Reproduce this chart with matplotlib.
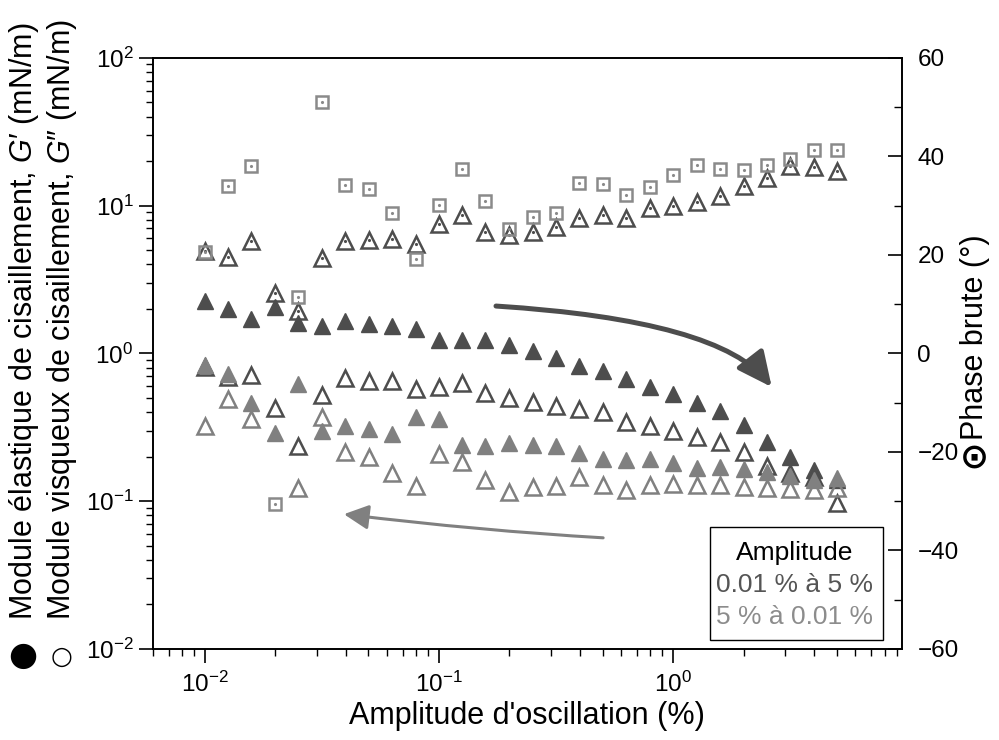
import numpy as np
import matplotlib
matplotlib.use('Agg')
import matplotlib.pyplot as plt
from matplotlib.patches import FancyArrowPatch, Rectangle, ArrowStyle
from matplotlib.path import Path
from matplotlib.ticker import MultipleLocator

plt.rcParams['font.family'] = ['Liberation Sans', 'DejaVu Sans']
plt.rcParams['mathtext.fontset'] = 'custom'
plt.rcParams['mathtext.rm'] = 'Liberation Sans'
plt.rcParams['mathtext.it'] = 'Liberation Sans:italic'
plt.rcParams['mathtext.bf'] = 'Liberation Sans:bold'

# Amplitude d'oscillation (%)
amplitude = [0.01, 0.0126, 0.0158, 0.02, 0.0251, 0.0316, 0.0398, 0.0501, 0.0631, 0.0794,
             0.1, 0.126, 0.158, 0.2, 0.251, 0.316, 0.398, 0.501, 0.631, 0.794,
             1.0, 1.26, 1.58, 2.0, 2.51, 3.16, 3.98, 5.01]

# Montée 0.01 % -> 5 %
g1_montee = [2.27, 1.98, 1.72, 2.07, 1.61, 1.53, 1.65, 1.57, 1.54, 1.47,
             1.23, 1.23, 1.23, 1.14, 1.04, 0.93, 0.82, 0.76, 0.67, 0.59,
             0.53, 0.46, 0.41, 0.33, 0.25, 0.20, 0.163, 0.14]
g2_montee = [0.81, 0.69, 0.71, 0.43, 0.236, 0.52, 0.68, 0.65, 0.65, 0.57,
             0.59, 0.63, 0.54, 0.50, 0.47, 0.44, 0.42, 0.40, 0.343, 0.32,
             0.30, 0.27, 0.25, 0.216, 0.173, 0.156, 0.145, 0.097]
phase_montee = [20.8, 19.6, 22.8, 12.2, 8.6, 19.3, 22.8, 23.0, 23.2, 22.1,
                26.2, 28.1, 24.6, 24.0, 24.7, 25.7, 27.4, 28.1, 27.4, 29.4,
                29.9, 30.8, 31.9, 33.9, 35.5, 38.0, 37.9, 37.0]

# Descente 5 % -> 0.01 %
g1_descente = [0.84, 0.73, 0.46, 0.29, 0.62, 0.30, 0.32, 0.31, 0.284, 0.37,
               0.36, 0.24, 0.236, 0.246, 0.239, 0.235, 0.213, 0.192, 0.19, 0.192,
               0.18, 0.167, 0.17, 0.165, 0.158, 0.148, 0.139, 0.143]
g2_descente = [0.32, 0.49, 0.36, np.nan, 0.123, 0.37, 0.216, 0.20, 0.155, 0.127,
               0.21, 0.183, 0.14, 0.116, 0.124, 0.127, 0.145, 0.129, 0.119, 0.128,
               0.131, 0.129, 0.128, 0.124, 0.123, 0.12, 0.119, 0.122]
phase_descente = [20.5, 33.9, 38.0, -30.6, 11.4, 51.0, 34.1, 33.4, 28.5, 19.2,
                  30.2, 37.5, 31.0, 25.2, 27.6, 28.4, 34.5, 34.3, 32.1, 33.7,
                  36.2, 38.3, 37.5, 37.3, 38.3, 39.5, 41.2, 41.3]

fonce = '#4d4d4d'
clair = '#808080'
carre = '#8a8a8a'

fig = plt.figure(figsize=(9.99, 7.4), dpi=100)
ax = fig.add_axes([0.153, 0.123, 0.75, 0.799])
ax.set_xscale('log')
ax.set_yscale('log')
ax.set_xlim(0.006, 9.5)
ax.set_ylim(1e-2, 1e2)

# modules
ax.plot(amplitude, g1_montee, '^', ms=11, color=fonce, mec=fonce, mew=1)
ax.plot(amplitude, g2_montee, '^', ms=11, mfc='none', mec=fonce, mew=1.8)
ax.plot(amplitude, g1_descente, '^', ms=11, color=clair, mec=clair, mew=1)
ax.plot(amplitude, g2_descente, '^', ms=11, mfc='none', mec=clair, mew=1.8)

for s in ax.spines.values():
    s.set_linewidth(1.2)
ax.tick_params(which='major', direction='out', length=10, width=1.2, labelsize=17.5)
ax.tick_params(which='minor', direction='out', length=5, width=1.0)
ax.tick_params(axis='y', pad=4)
ax.tick_params(axis='x', pad=6)

# phase brute (axe droit)
ax2 = ax.twinx()
ax2.set_ylim(-60, 60)
ax2.set_yticks(range(-60, 61, 20))
ax2.yaxis.set_minor_locator(MultipleLocator(10))
ax2.plot(amplitude, phase_montee, '^', ms=11, mfc='none', mec=fonce, mew=1.8)
ax2.plot(amplitude, phase_montee, '.', ms=2.5, color=fonce)
ax2.plot(amplitude, phase_descente, 's', ms=8, mfc='none', mec=carre, mew=1.8)
ax2.plot(amplitude, phase_descente, '.', ms=2.5, color=carre)
ax2.tick_params(which='major', direction='in', length=10, width=1.2, labelsize=17.5, pad=11)
ax2.tick_params(which='minor', direction='in', length=6, width=1.0)
for s in ax2.spines.values():
    s.set_linewidth(1.2)

# flèches
fleche1 = Path([(0.458, 0.580), (0.757, 0.556), (0.826, 0.443)],
               [Path.MOVETO, Path.CURVE3, Path.CURVE3])
ax.add_patch(FancyArrowPatch(path=fleche1, transform=ax.transAxes,
                             arrowstyle=ArrowStyle('-|>', head_length=21, head_width=10),
                             color=fonce, lw=3.6, shrinkA=0, shrinkB=0))
fleche2 = Path([(0.601, 0.188), (0.437, 0.200), (0.255, 0.228)],
               [Path.MOVETO, Path.CURVE3, Path.CURVE3])
ax.add_patch(FancyArrowPatch(path=fleche2, transform=ax.transAxes,
                             arrowstyle=ArrowStyle('-|>', head_length=15, head_width=7.5),
                             color=clair, lw=2.2, shrinkA=0, shrinkB=0))

# encadré amplitude
ax.add_patch(Rectangle((0.744, 0.016), 0.231, 0.19, transform=ax.transAxes,
                       facecolor='white', edgecolor='black', lw=1.0, zorder=5))
ax.text(0.857, 0.163, 'Amplitude', transform=ax.transAxes, ha='center', va='center',
        fontsize=19, color='black', zorder=6)
ax.text(0.857, 0.108, '0.01 % à 5 %', transform=ax.transAxes, ha='center', va='center',
        fontsize=19, color='#555555', zorder=6)
ax.text(0.857, 0.054, '5 % à 0.01 %', transform=ax.transAxes, ha='center', va='center',
        fontsize=19, color='#8c8c8c', zorder=6)

# titres des axes
fig.text(0.5275, 1 - 716 / 740, "Amplitude d'oscillation (%)", ha='center', va='center', fontsize=22)
fig.text(0.023, 1 - 655 / 740, '●', ha='center', va='center', fontsize=24, family='DejaVu Sans')
fig.text(0.062, 1 - 657 / 740, '○', ha='center', va='center', fontsize=18, family='DejaVu Sans')
fig.text(0.024, 1 - 620 / 740, "Module élastique de cisaillement, $G$′ (mN/m)",
         rotation=90, ha='center', va='bottom', fontsize=22)
fig.text(0.062, 1 - 620 / 740, "Module visqueux de cisaillement, $G$″ (mN/m)",
         rotation=90, ha='center', va='bottom', fontsize=22)
fig.text(0.975, 1 - 458 / 740, '⊙', ha='center', va='center', fontsize=25,
         family='DejaVu Sans', fontweight='bold')
fig.text(0.976, 1 - 440 / 740, 'Phase brute (°)', rotation=90, ha='center', va='bottom', fontsize=22)

fig.savefig('out.png', dpi=100)
